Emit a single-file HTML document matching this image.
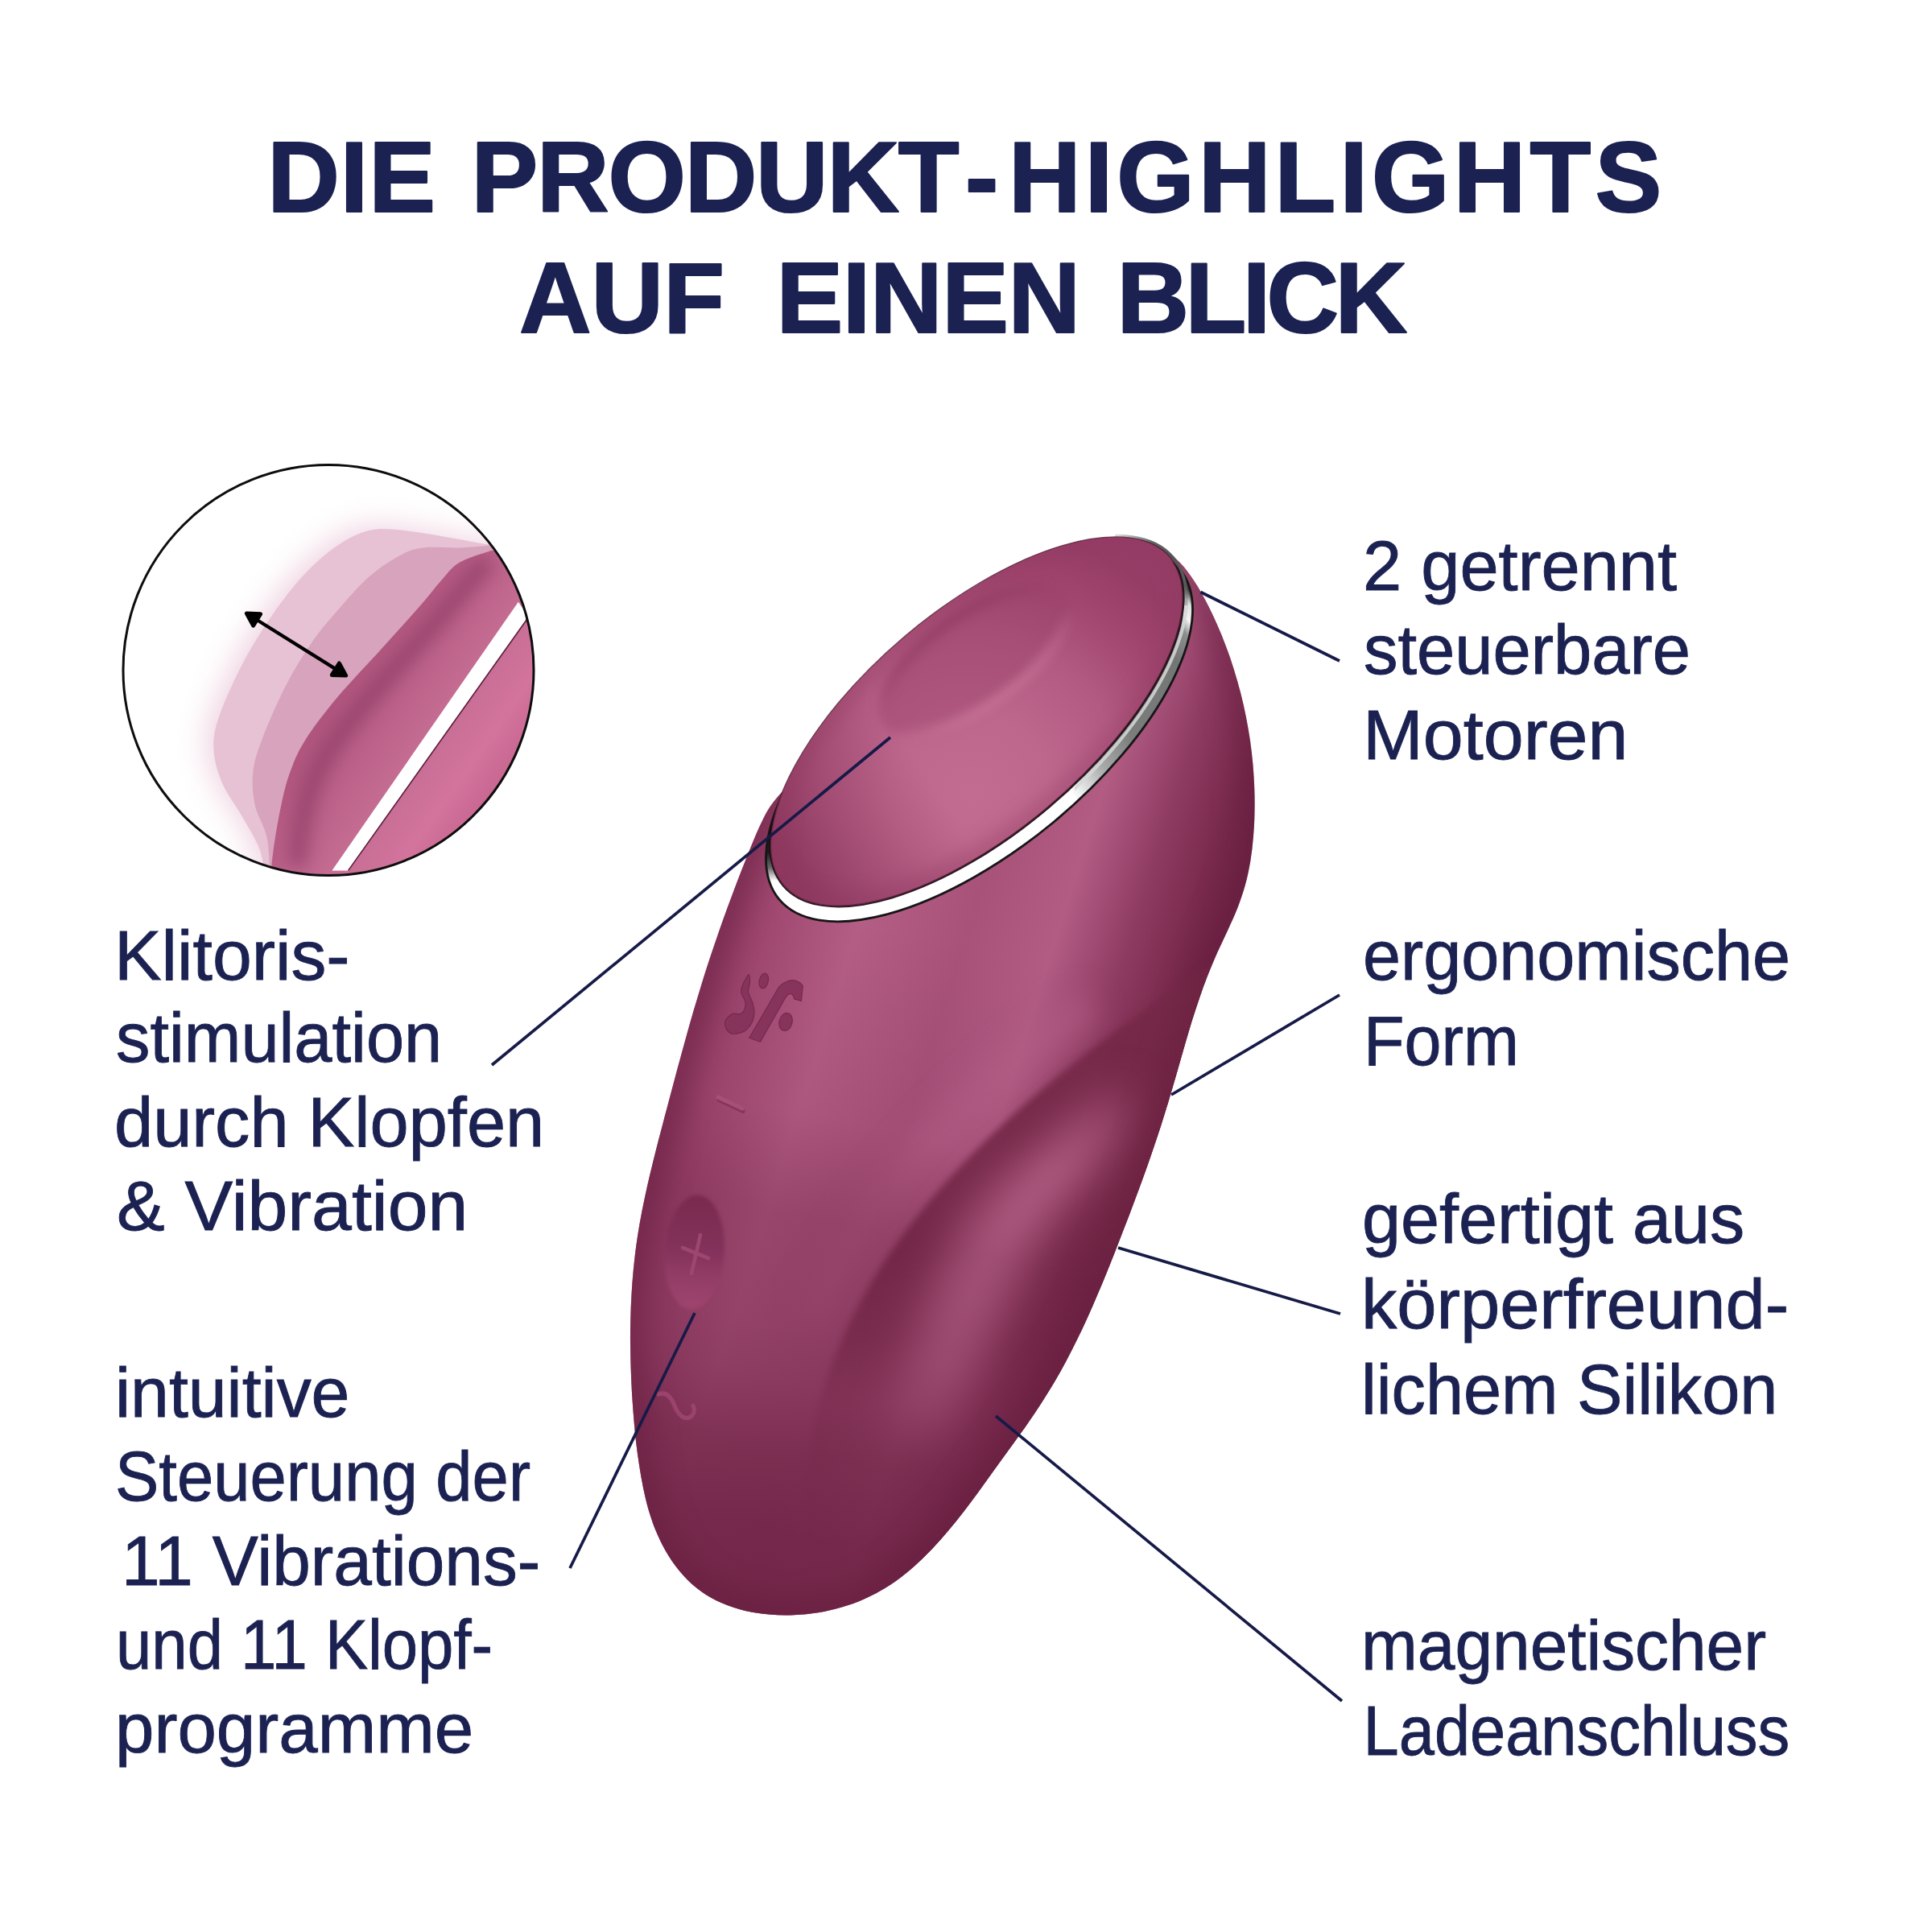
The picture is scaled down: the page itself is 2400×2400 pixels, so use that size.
<!DOCTYPE html>
<html lang="de"><head><meta charset="utf-8"><title>Die Produkt-Highlights auf einen Blick</title>
<style>
html,body{margin:0;padding:0;background:#fff;}
body{width:2400px;height:2400px;overflow:hidden;}
svg{display:block;}
svg text{font-family:"Liberation Sans",sans-serif;fill:#1b2252;}
</style></head><body>
<svg width="2400" height="2400" viewBox="0 0 2400 2400">

<defs>
<clipPath id="cpBody"><path d="M1382.7,670.7 C1391.4,667.8 1401.6,667.6 1411.3,669.1 C1421.0,670.6 1431.7,674.8 1440.7,679.7 C1449.8,684.6 1458.3,691.4 1465.5,698.5 C1472.7,705.6 1478.3,713.9 1483.8,722.2 C1489.4,730.4 1494.1,739.2 1498.7,748.0 C1503.3,756.8 1507.6,765.9 1511.6,775.0 C1515.7,784.2 1519.5,793.5 1523.0,802.9 C1526.5,812.2 1529.8,821.8 1532.8,831.4 C1535.8,841.0 1538.6,850.7 1541.1,860.5 C1543.6,870.2 1545.9,880.1 1547.8,890.0 C1549.8,899.9 1551.5,909.9 1553.0,919.9 C1554.4,929.8 1555.6,939.9 1556.5,949.9 C1557.4,960.0 1558.0,970.1 1558.3,980.1 C1558.7,990.2 1558.7,1000.2 1558.5,1010.3 C1558.3,1020.3 1557.8,1030.4 1556.9,1040.3 C1556.1,1050.3 1554.9,1060.2 1553.3,1070.0 C1551.6,1079.8 1549.6,1089.6 1547.0,1099.1 C1544.3,1108.7 1541.1,1118.2 1537.5,1127.5 C1533.9,1136.8 1529.5,1146.0 1525.4,1155.2 C1521.2,1164.4 1516.7,1173.5 1512.5,1182.7 C1508.4,1192.0 1504.4,1201.2 1500.7,1210.6 C1497.0,1220.0 1493.6,1229.4 1490.3,1238.9 C1487.0,1248.4 1484.0,1258.0 1480.9,1267.6 C1477.9,1277.1 1475.1,1286.8 1472.3,1296.4 C1469.5,1306.1 1466.8,1315.7 1464.0,1325.4 C1461.2,1335.0 1458.5,1344.7 1455.6,1354.4 C1452.8,1364.0 1449.9,1373.6 1446.9,1383.2 C1443.9,1392.8 1440.9,1402.4 1437.7,1411.9 C1434.5,1421.4 1431.3,1430.9 1428.0,1440.4 C1424.7,1449.9 1421.3,1459.4 1417.9,1468.8 C1414.4,1478.3 1410.9,1487.7 1407.4,1497.1 C1403.9,1506.6 1400.3,1516.0 1396.6,1525.3 C1393.0,1534.7 1389.4,1544.1 1385.7,1553.5 C1382.0,1562.8 1378.3,1572.2 1374.5,1581.5 C1370.7,1590.8 1366.9,1600.1 1362.9,1609.3 C1359.0,1618.6 1354.9,1627.8 1350.8,1636.9 C1346.6,1646.0 1342.4,1655.1 1338.0,1664.1 C1333.6,1673.1 1329.0,1682.1 1324.3,1690.9 C1319.6,1699.8 1314.7,1708.5 1309.6,1717.2 C1304.5,1725.8 1299.2,1734.4 1293.8,1742.8 C1288.3,1751.3 1282.6,1759.6 1276.9,1767.9 C1271.2,1776.2 1265.2,1784.4 1259.4,1792.6 C1253.5,1800.8 1247.5,1808.9 1241.6,1817.1 C1235.7,1825.2 1229.9,1833.4 1224.0,1841.5 C1218.1,1849.7 1212.3,1857.8 1206.3,1865.8 C1200.3,1873.8 1194.2,1881.8 1188.0,1889.6 C1181.7,1897.4 1175.3,1905.1 1168.6,1912.6 C1161.9,1920.1 1155.0,1927.5 1147.7,1934.5 C1140.4,1941.6 1132.9,1948.4 1125.0,1954.7 C1117.1,1961.0 1109.0,1966.9 1100.4,1972.2 C1091.9,1977.4 1083.0,1982.1 1073.9,1986.2 C1064.8,1990.3 1055.3,1993.7 1045.7,1996.5 C1036.1,1999.4 1026.2,2001.6 1016.3,2003.2 C1006.3,2004.8 996.2,2005.8 986.1,2006.2 C976.0,2006.6 965.7,2006.4 955.6,2005.5 C945.5,2004.6 935.3,2003.2 925.6,2000.9 C915.8,1998.6 906.1,1995.6 897.1,1991.6 C888.0,1987.7 879.2,1982.9 871.1,1977.1 C863.1,1971.3 855.5,1964.4 848.8,1957.0 C842.0,1949.6 835.8,1941.1 830.4,1932.5 C825.0,1924.0 820.4,1914.8 816.4,1905.6 C812.3,1896.4 809.1,1886.9 806.2,1877.4 C803.3,1867.8 801.1,1858.0 799.0,1848.2 C796.9,1838.4 795.3,1828.5 793.8,1818.6 C792.2,1808.7 791.0,1798.7 789.8,1788.7 C788.7,1778.8 787.8,1768.8 787.0,1758.8 C786.2,1748.8 785.5,1738.7 784.9,1728.7 C784.4,1718.6 783.9,1708.5 783.6,1698.5 C783.3,1688.4 783.1,1678.3 783.0,1668.3 C782.9,1658.2 783.0,1648.1 783.3,1638.0 C783.5,1628.0 783.9,1617.9 784.5,1607.9 C785.1,1597.8 785.8,1587.8 786.8,1577.8 C787.7,1567.8 788.8,1557.9 790.2,1547.9 C791.6,1538.0 793.1,1528.1 794.9,1518.2 C796.6,1508.4 798.6,1498.5 800.7,1488.7 C802.7,1478.9 805.0,1469.1 807.3,1459.3 C809.6,1449.5 812.0,1439.8 814.5,1430.0 C816.9,1420.3 819.5,1410.5 822.1,1400.8 C824.6,1391.1 827.2,1381.3 829.8,1371.6 C832.4,1361.9 834.9,1352.1 837.5,1342.4 C840.1,1332.7 842.7,1323.0 845.4,1313.3 C848.0,1303.5 850.7,1293.8 853.4,1284.2 C856.1,1274.5 858.8,1264.8 861.6,1255.2 C864.5,1245.6 867.3,1236.0 870.3,1226.4 C873.2,1216.8 876.2,1207.2 879.3,1197.7 C882.4,1188.2 885.6,1178.7 888.9,1169.2 C892.1,1159.7 895.4,1150.3 898.8,1140.8 C902.2,1131.3 905.7,1121.9 909.2,1112.5 C912.7,1103.0 916.3,1093.6 919.9,1084.2 C923.6,1074.8 927.2,1065.3 931.1,1055.9 C934.9,1046.6 938.6,1037.0 942.9,1027.9 C947.2,1018.9 951.4,1009.5 956.9,1001.5 C962.4,993.4 968.8,985.9 976.1,979.4 C983.3,972.9 992.0,967.7 1000.5,962.5 C1009.0,957.3 1018.2,952.9 1027.2,948.3 C1036.1,943.6 1045.4,939.3 1054.3,934.5 C1063.2,929.7 1072.0,924.8 1080.6,919.5 C1089.2,914.3 1097.6,908.7 1106.0,903.1 C1114.3,897.4 1122.5,891.5 1130.6,885.5 C1138.7,879.5 1146.6,873.3 1154.6,867.1 C1162.5,860.9 1170.3,854.5 1178.2,848.2 C1186.0,841.8 1193.7,835.4 1201.5,829.0 C1209.2,822.6 1216.9,816.2 1224.7,809.9 C1232.5,803.6 1240.2,797.4 1248.0,791.2 C1255.8,785.0 1263.7,779.1 1271.5,772.9 C1279.3,766.7 1287.1,760.7 1294.7,754.1 C1302.3,747.5 1309.9,740.9 1317.1,733.5 C1324.3,726.2 1331.2,717.9 1338.1,710.0 C1345.1,702.2 1351.5,693.0 1359.0,686.4 C1366.4,679.9 1374.0,673.6 1382.7,670.7Z"/></clipPath>
<clipPath id="cpFace"><path d="M1453.92,692.87 A315.00,138.80 -40.25 1 0 973.08,1099.93 A315.00,138.80 -40.25 1 0 1453.92,692.87 Z" /></clipPath>
<clipPath id="cpCirc"><circle cx="408" cy="832.5" r="254"/></clipPath>
<linearGradient id="gBody" gradientUnits="userSpaceOnUse" x1="860" y1="1150" x2="1461" y2="1342">
 <stop offset="0" stop-color="#85335a"/><stop offset="0.05" stop-color="#8c385f"/><stop offset="0.14" stop-color="#a04870"/><stop offset="0.31" stop-color="#b45e85"/>
 <stop offset="0.52" stop-color="#a8527a"/><stop offset="0.69" stop-color="#b25c84"/><stop offset="0.83" stop-color="#8e3b62"/><stop offset="0.95" stop-color="#762849"/><stop offset="1" stop-color="#6f2345"/>
</linearGradient>
<linearGradient id="gDown" gradientUnits="userSpaceOnUse" x1="1120" y1="1150" x2="930" y2="2000">
 <stop offset="0" stop-color="#6a1f41" stop-opacity="0"/><stop offset="0.29" stop-color="#6a1f41" stop-opacity="0.11"/><stop offset="0.435" stop-color="#6a1f41" stop-opacity="0.37"/><stop offset="0.6" stop-color="#6a1f41" stop-opacity="0.43"/><stop offset="0.67" stop-color="#6a1f41" stop-opacity="0.51"/><stop offset="0.765" stop-color="#6a1f41" stop-opacity="0.7"/><stop offset="0.88" stop-color="#6a1f41" stop-opacity="0.83"/><stop offset="1" stop-color="#6a1f41" stop-opacity="0.87"/>
</linearGradient>
<linearGradient id="gLobe" gradientUnits="userSpaceOnUse" x1="0" y1="1200" x2="0" y2="2000">
 <stop offset="0" stop-color="#762949" stop-opacity="0.95"/><stop offset="0.45" stop-color="#762949" stop-opacity="0.95"/><stop offset="0.58" stop-color="#762949" stop-opacity="0.7"/><stop offset="0.68" stop-color="#762949" stop-opacity="0.3"/><stop offset="0.8" stop-color="#762949" stop-opacity="0.12"/><stop offset="1" stop-color="#762949" stop-opacity="0.05"/>
</linearGradient>
<radialGradient id="gFace" gradientUnits="userSpaceOnUse" cx="1205" cy="985" r="335">
 <stop offset="0" stop-color="#c26c91"/><stop offset="0.3" stop-color="#be678d"/><stop offset="0.58" stop-color="#b25a82"/><stop offset="0.82" stop-color="#a1466e"/><stop offset="1" stop-color="#963d66"/>
</radialGradient>
<linearGradient id="gRing" gradientUnits="userSpaceOnUse" x1="965" y1="1110" x2="1478" y2="735">
 <stop offset="0" stop-color="#ffffff"/><stop offset="0.58" stop-color="#ffffff"/><stop offset="0.66" stop-color="#a8a9a9"/><stop offset="0.74" stop-color="#7b7d7c"/><stop offset="0.9" stop-color="#747675"/><stop offset="0.945" stop-color="#8c8e8d"/><stop offset="0.965" stop-color="#f4f4f4"/><stop offset="0.985" stop-color="#e0e0e0"/><stop offset="1" stop-color="#3c3c3c"/>
</linearGradient>
<linearGradient id="gFaceL" gradientUnits="userSpaceOnUse" x1="955" y1="1035" x2="1125" y2="925">
 <stop offset="0" stop-color="#7c2a50" stop-opacity="0.6"/><stop offset="0.4" stop-color="#7c2a50" stop-opacity="0.33"/><stop offset="1" stop-color="#7c2a50" stop-opacity="0"/>
</linearGradient>
<linearGradient id="gTR" gradientUnits="userSpaceOnUse" x1="1385" y1="650" x2="1490" y2="752">
 <stop offset="0" stop-color="#4c4d4d" stop-opacity="0"/><stop offset="0.35" stop-color="#4c4d4d" stop-opacity="0.9"/><stop offset="0.75" stop-color="#5a5b5b" stop-opacity="1"/><stop offset="1" stop-color="#6a6b6b" stop-opacity="0"/>
</linearGradient>
<linearGradient id="gRingL" gradientUnits="userSpaceOnUse" x1="0" y1="950" x2="0" y2="1110">
 <stop offset="0" stop-color="#2b2b2b"/><stop offset="0.68" stop-color="#1c1c1c"/><stop offset="0.8" stop-color="#6a6a6a"/><stop offset="0.9" stop-color="#ffffff"/><stop offset="1" stop-color="#ffffff"/>
</linearGradient>
<clipPath id="cpRing"><path d="M1465.35,706.56 A322.50,143.20 -39.50 1 0 967.65,1116.84 A322.50,143.20 -39.50 1 0 1465.35,706.56 Z" /></clipPath>
<clipPath id="cpTR"><rect x="1385" y="640" width="130" height="112"/></clipPath>
<clipPath id="cpRS"><rect x="1335" y="745" width="170" height="250"/></clipPath>
<clipPath id="cpRL"><rect x="900" y="600" width="200" height="700"/></clipPath>
<clipPath id="cpRR"><rect x="1100" y="600" width="500" height="700"/></clipPath>
<linearGradient id="gDimStroke" gradientUnits="userSpaceOnUse" x1="1175" y1="770" x2="1246" y2="871">
 <stop offset="0" stop-color="#8a355d" stop-opacity="0.55"/><stop offset="0.35" stop-color="#8a355d" stop-opacity="0.0"/><stop offset="0.6" stop-color="#d583a6" stop-opacity="0"/><stop offset="1" stop-color="#d583a6" stop-opacity="0.6"/>
</linearGradient>
<linearGradient id="gBtn" gradientUnits="userSpaceOnUse" x1="866" y1="1485" x2="858" y2="1625">
 <stop offset="0" stop-color="#7a2a4e"/><stop offset="0.45" stop-color="#82315a"/><stop offset="0.8" stop-color="#964069"/><stop offset="1" stop-color="#9e446f"/>
</linearGradient>
<linearGradient id="gInMain" gradientUnits="userSpaceOnUse" x1="330" y1="800" x2="640" y2="1018">
 <stop offset="0" stop-color="#b8628a"/><stop offset="0.3" stop-color="#b1567f"/><stop offset="0.62" stop-color="#c66d94"/><stop offset="0.78" stop-color="#d3749d"/><stop offset="1" stop-color="#bd5a87"/>
</linearGradient>
<filter id="blur2" color-interpolation-filters="sRGB" x="-20%" y="-20%" width="140%" height="140%"><feGaussianBlur stdDeviation="2"/></filter>
<filter id="blur4" color-interpolation-filters="sRGB" x="-20%" y="-20%" width="140%" height="140%"><feGaussianBlur stdDeviation="4"/></filter>
<filter id="blur6" color-interpolation-filters="sRGB" x="-20%" y="-20%" width="140%" height="140%"><feGaussianBlur stdDeviation="6"/></filter>
<filter id="blur10" color-interpolation-filters="sRGB" x="-30%" y="-30%" width="160%" height="160%"><feGaussianBlur stdDeviation="10"/></filter>
<filter id="blur18" color-interpolation-filters="sRGB" x="-40%" y="-40%" width="180%" height="180%"><feGaussianBlur stdDeviation="18"/></filter>
<filter id="blur30" color-interpolation-filters="sRGB" x="-50%" y="-50%" width="200%" height="200%"><feGaussianBlur stdDeviation="30"/></filter>
</defs>

<rect width="2400" height="2400" fill="#fff"/>
<g id="product"><g clip-path="url(#cpBody)"><rect x="700" y="600" width="1000" height="1500" fill="url(#gBody)"/><path d="M1340.6,1259.4 C1336.5,1262.5 1324.1,1272.0 1315.8,1278.4 C1307.6,1284.8 1299.4,1291.3 1291.3,1297.9 C1283.1,1304.4 1275.0,1311.1 1267.0,1317.8 C1259.0,1324.6 1251.0,1331.4 1243.1,1338.3 C1235.2,1345.2 1227.4,1352.2 1219.7,1359.3 C1211.9,1366.3 1204.3,1373.5 1196.7,1380.8 C1189.2,1388.0 1181.7,1395.4 1174.4,1402.8 C1167.1,1410.2 1159.9,1417.8 1152.8,1425.4 C1145.7,1433.0 1138.8,1440.7 1132.0,1448.5 C1125.1,1456.3 1118.5,1464.2 1112.0,1472.2 C1105.4,1480.3 1099.1,1488.4 1092.9,1496.6 C1086.7,1504.8 1080.7,1513.1 1074.8,1521.5 C1069.0,1529.9 1063.3,1538.4 1057.9,1547.0 C1052.4,1555.6 1047.1,1564.3 1042.1,1573.2 C1037.0,1582.0 1032.2,1590.9 1027.6,1600.0 C1022.9,1609.0 1016.6,1622.8 1014.4,1627.4" fill="none" stroke="#ba648b" stroke-opacity="0.5" stroke-width="46" stroke-linecap="round" filter="url(#blur18)"/><path d="M1498.8,1200.9 C1494.7,1203.7 1482.4,1212.1 1474.2,1217.8 C1466.0,1223.5 1457.7,1229.2 1449.4,1235.0 C1441.1,1240.9 1432.8,1246.8 1424.5,1252.7 C1416.2,1258.7 1407.8,1264.7 1399.5,1270.8 C1391.2,1276.9 1382.9,1283.1 1374.6,1289.4 C1366.3,1295.6 1358.1,1302.0 1349.8,1308.4 C1341.6,1314.8 1333.4,1321.3 1325.3,1327.9 C1317.1,1334.4 1309.0,1341.1 1301.0,1347.8 C1293.0,1354.6 1285.0,1361.4 1277.1,1368.3 C1269.2,1375.2 1261.4,1382.2 1253.7,1389.3 C1245.9,1396.3 1238.3,1403.5 1230.7,1410.8 C1223.2,1418.0 1215.7,1425.4 1208.4,1432.8 C1201.1,1440.2 1193.9,1447.8 1186.8,1455.4 C1179.7,1463.0 1172.8,1470.7 1166.0,1478.5 C1159.1,1486.3 1152.5,1494.2 1146.0,1502.2 C1139.4,1510.3 1133.1,1518.4 1126.9,1526.6 C1120.7,1534.8 1114.7,1543.1 1108.8,1551.5 C1103.0,1559.9 1097.3,1568.4 1091.9,1577.0 C1086.4,1585.6 1081.1,1594.3 1076.1,1603.2 C1071.0,1612.0 1066.2,1620.9 1061.6,1630.0 C1056.9,1639.0 1052.5,1648.2 1048.4,1657.4 C1044.2,1666.7 1040.2,1676.1 1036.6,1685.5 C1032.9,1695.0 1029.4,1704.6 1026.3,1714.4 C1023.1,1724.1 1020.2,1733.9 1017.5,1743.9 C1014.9,1753.8 1012.5,1763.9 1010.5,1774.1 C1008.4,1784.3 1006.6,1794.6 1005.1,1805.0 C1003.7,1815.4 1002.5,1826.0 1001.6,1836.7 C1000.7,1847.4 1000.2,1858.2 1000.0,1869.1 C999.8,1880.0 1000.3,1896.7 1000.3,1902.3 L1000,2100 L1700,2100 L1700,1150 Z" fill="url(#gLobe)" filter="url(#blur4)"/><path d="M1385.0,1365.0 C1368.3,1374.2 1323.3,1411.7 1295.0,1435.0 C1266.7,1458.3 1235.8,1480.8 1215.0,1505.0 C1194.2,1529.2 1181.7,1555.0 1170.0,1580.0 C1158.3,1605.0 1152.0,1630.8 1145.0,1655.0 C1138.0,1679.2 1132.2,1704.2 1128.0,1725.0 C1123.8,1745.8 1117.2,1769.2 1120.0,1780.0 C1122.8,1790.8 1134.2,1796.7 1145.0,1790.0 C1155.8,1783.3 1171.7,1760.0 1185.0,1740.0 C1198.3,1720.0 1212.2,1694.2 1225.0,1670.0 C1237.8,1645.8 1249.5,1620.0 1262.0,1595.0 C1274.5,1570.0 1285.3,1544.2 1300.0,1520.0 C1314.7,1495.8 1334.2,1473.3 1350.0,1450.0 C1365.8,1426.7 1389.2,1394.2 1395.0,1380.0 C1400.8,1365.8 1401.7,1355.8 1385.0,1365.0Z" fill="#c9739b" filter="url(#blur30)"/><rect x="700" y="1100" width="1000" height="1000" fill="url(#gDown)"/><path d="M1382.7,670.7 C1391.4,667.8 1401.6,667.6 1411.3,669.1 C1421.0,670.6 1431.7,674.8 1440.7,679.7 C1449.8,684.6 1458.3,691.4 1465.5,698.5 C1472.7,705.6 1478.3,713.9 1483.8,722.2 C1489.4,730.4 1494.1,739.2 1498.7,748.0 C1503.3,756.8 1507.6,765.9 1511.6,775.0 C1515.7,784.2 1519.5,793.5 1523.0,802.9 C1526.5,812.2 1529.8,821.8 1532.8,831.4 C1535.8,841.0 1538.6,850.7 1541.1,860.5 C1543.6,870.2 1545.9,880.1 1547.8,890.0 C1549.8,899.9 1551.5,909.9 1553.0,919.9 C1554.4,929.8 1555.6,939.9 1556.5,949.9 C1557.4,960.0 1558.0,970.1 1558.3,980.1 C1558.7,990.2 1558.7,1000.2 1558.5,1010.3 C1558.3,1020.3 1557.8,1030.4 1556.9,1040.3 C1556.1,1050.3 1554.9,1060.2 1553.3,1070.0 C1551.6,1079.8 1549.6,1089.6 1547.0,1099.1 C1544.3,1108.7 1541.1,1118.2 1537.5,1127.5 C1533.9,1136.8 1529.5,1146.0 1525.4,1155.2 C1521.2,1164.4 1516.7,1173.5 1512.5,1182.7 C1508.4,1192.0 1504.4,1201.2 1500.7,1210.6 C1497.0,1220.0 1493.6,1229.4 1490.3,1238.9 C1487.0,1248.4 1484.0,1258.0 1480.9,1267.6 C1477.9,1277.1 1475.1,1286.8 1472.3,1296.4 C1469.5,1306.1 1466.8,1315.7 1464.0,1325.4 C1461.2,1335.0 1458.5,1344.7 1455.6,1354.4 C1452.8,1364.0 1449.9,1373.6 1446.9,1383.2 C1443.9,1392.8 1440.9,1402.4 1437.7,1411.9 C1434.5,1421.4 1431.3,1430.9 1428.0,1440.4 C1424.7,1449.9 1421.3,1459.4 1417.9,1468.8 C1414.4,1478.3 1410.9,1487.7 1407.4,1497.1 C1403.9,1506.6 1400.3,1516.0 1396.6,1525.3 C1393.0,1534.7 1389.4,1544.1 1385.7,1553.5 C1382.0,1562.8 1378.3,1572.2 1374.5,1581.5 C1370.7,1590.8 1366.9,1600.1 1362.9,1609.3 C1359.0,1618.6 1354.9,1627.8 1350.8,1636.9 C1346.6,1646.0 1342.4,1655.1 1338.0,1664.1 C1333.6,1673.1 1329.0,1682.1 1324.3,1690.9 C1319.6,1699.8 1314.7,1708.5 1309.6,1717.2 C1304.5,1725.8 1299.2,1734.4 1293.8,1742.8 C1288.3,1751.3 1282.6,1759.6 1276.9,1767.9 C1271.2,1776.2 1265.2,1784.4 1259.4,1792.6 C1253.5,1800.8 1247.5,1808.9 1241.6,1817.1 C1235.7,1825.2 1229.9,1833.4 1224.0,1841.5 C1218.1,1849.7 1212.3,1857.8 1206.3,1865.8 C1200.3,1873.8 1194.2,1881.8 1188.0,1889.6 C1181.7,1897.4 1175.3,1905.1 1168.6,1912.6 C1161.9,1920.1 1155.0,1927.5 1147.7,1934.5 C1140.4,1941.6 1132.9,1948.4 1125.0,1954.7 C1117.1,1961.0 1109.0,1966.9 1100.4,1972.2 C1091.9,1977.4 1083.0,1982.1 1073.9,1986.2 C1064.8,1990.3 1055.3,1993.7 1045.7,1996.5 C1036.1,1999.4 1026.2,2001.6 1016.3,2003.2 C1006.3,2004.8 996.2,2005.8 986.1,2006.2 C976.0,2006.6 965.7,2006.4 955.6,2005.5 C945.5,2004.6 935.3,2003.2 925.6,2000.9 C915.8,1998.6 906.1,1995.6 897.1,1991.6 C888.0,1987.7 879.2,1982.9 871.1,1977.1 C863.1,1971.3 855.5,1964.4 848.8,1957.0 C842.0,1949.6 835.8,1941.1 830.4,1932.5 C825.0,1924.0 820.4,1914.8 816.4,1905.6 C812.3,1896.4 809.1,1886.9 806.2,1877.4 C803.3,1867.8 801.1,1858.0 799.0,1848.2 C796.9,1838.4 795.3,1828.5 793.8,1818.6 C792.2,1808.7 791.0,1798.7 789.8,1788.7 C788.7,1778.8 787.8,1768.8 787.0,1758.8 C786.2,1748.8 785.5,1738.7 784.9,1728.7 C784.4,1718.6 783.9,1708.5 783.6,1698.5 C783.3,1688.4 783.1,1678.3 783.0,1668.3 C782.9,1658.2 783.0,1648.1 783.3,1638.0 C783.5,1628.0 783.9,1617.9 784.5,1607.9 C785.1,1597.8 785.8,1587.8 786.8,1577.8 C787.7,1567.8 788.8,1557.9 790.2,1547.9 C791.6,1538.0 793.1,1528.1 794.9,1518.2 C796.6,1508.4 798.6,1498.5 800.7,1488.7 C802.7,1478.9 805.0,1469.1 807.3,1459.3 C809.6,1449.5 812.0,1439.8 814.5,1430.0 C816.9,1420.3 819.5,1410.5 822.1,1400.8 C824.6,1391.1 827.2,1381.3 829.8,1371.6 C832.4,1361.9 834.9,1352.1 837.5,1342.4 C840.1,1332.7 842.7,1323.0 845.4,1313.3 C848.0,1303.5 850.7,1293.8 853.4,1284.2 C856.1,1274.5 858.8,1264.8 861.6,1255.2 C864.5,1245.6 867.3,1236.0 870.3,1226.4 C873.2,1216.8 876.2,1207.2 879.3,1197.7 C882.4,1188.2 885.6,1178.7 888.9,1169.2 C892.1,1159.7 895.4,1150.3 898.8,1140.8 C902.2,1131.3 905.7,1121.9 909.2,1112.5 C912.7,1103.0 916.3,1093.6 919.9,1084.2 C923.6,1074.8 927.2,1065.3 931.1,1055.9 C934.9,1046.6 938.6,1037.0 942.9,1027.9 C947.2,1018.9 951.4,1009.5 956.9,1001.5 C962.4,993.4 968.8,985.9 976.1,979.4 C983.3,972.9 992.0,967.7 1000.5,962.5 C1009.0,957.3 1018.2,952.9 1027.2,948.3 C1036.1,943.6 1045.4,939.3 1054.3,934.5 C1063.2,929.7 1072.0,924.8 1080.6,919.5 C1089.2,914.3 1097.6,908.7 1106.0,903.1 C1114.3,897.4 1122.5,891.5 1130.6,885.5 C1138.7,879.5 1146.6,873.3 1154.6,867.1 C1162.5,860.9 1170.3,854.5 1178.2,848.2 C1186.0,841.8 1193.7,835.4 1201.5,829.0 C1209.2,822.6 1216.9,816.2 1224.7,809.9 C1232.5,803.6 1240.2,797.4 1248.0,791.2 C1255.8,785.0 1263.7,779.1 1271.5,772.9 C1279.3,766.7 1287.1,760.7 1294.7,754.1 C1302.3,747.5 1309.9,740.9 1317.1,733.5 C1324.3,726.2 1331.2,717.9 1338.1,710.0 C1345.1,702.2 1351.5,693.0 1359.0,686.4 C1366.4,679.9 1374.0,673.6 1382.7,670.7Z" fill="none" stroke="#5f1a3a" stroke-opacity="0.5" stroke-width="30" filter="url(#blur18)"/></g><g id="controls"><path d="M899.71,1558.08 A37.00,71.00 4.00 1 0 825.89,1552.92 A37.00,71.00 4.00 1 0 899.71,1558.08 Z" fill="url(#gBtn)" filter="url(#blur2)"/><g stroke="#9d466f" stroke-width="4.6" stroke-linecap="round" fill="none"><path d="M848,1550 L880,1563"/><path d="M870,1534 L859,1582"/><path d="M818,1732 C828,1728 834,1736 838,1746 C843,1760 852,1764 858,1760 C863,1756 863,1750 861,1746" stroke="#9a446c" stroke-width="5.2"/><path d="M893,1366.5 L923,1380.5" stroke="#7e2f54" stroke-width="5" stroke-opacity="0.7"/><path d="M892,1363 L922,1377" stroke="#a64f78" stroke-width="5.2"/></g><g fill="#86345b" stroke="#702446" stroke-width="1.2" stroke-opacity="0.8"><path d="M928.9,1211.7 C927.5,1213.8 923.4,1221.1 922.1,1224.7 C920.8,1228.3 920.3,1230.1 920.9,1233.4 C921.5,1236.7 925.2,1241.1 925.8,1244.6 C926.4,1248.1 925.6,1252.0 924.6,1254.5 C923.6,1257.0 922.1,1258.7 919.6,1259.5 C917.1,1260.3 912.8,1258.0 909.7,1259.5 C906.6,1261.0 902.2,1265.1 901.0,1268.2 C899.8,1271.3 900.8,1275.4 902.2,1278.1 C903.7,1280.8 906.8,1283.5 909.7,1284.3 C912.6,1285.1 916.7,1283.9 919.6,1283.1 C922.5,1282.3 924.6,1281.7 927.1,1279.4 C929.6,1277.1 932.9,1273.1 934.5,1269.4 C936.1,1265.7 937.0,1261.1 937.0,1257.0 C937.0,1252.9 935.7,1248.7 934.5,1244.6 C933.3,1240.5 930.1,1236.1 929.6,1232.2 C929.1,1228.3 931.2,1224.3 931.4,1221.0 C931.6,1217.7 931.2,1213.8 930.8,1212.3 C930.4,1210.8 930.3,1209.6 928.9,1211.7Z"/><path d="M954.14,1219.83 A5.50,9.50 14.00 1 0 943.46,1217.17 A5.50,9.50 14.00 1 0 954.14,1219.83 Z" /><path d="M995.4,1243.4 L997.3,1224.5 C992,1217 984,1216.5 978,1219 C972,1221.5 969,1224 966.8,1227.2 L930.8,1289.3 L944.5,1294.3 L975.5,1239.6 C978,1235.5 980.5,1234 983,1234.7 C985,1235.5 986,1238 986.7,1240.9 Z"/><path d="M983.86,1271.34 A8.00,11.00 14.00 1 0 968.34,1267.46 A8.00,11.00 14.00 1 0 983.86,1271.34 Z" /></g></g><g clip-path="url(#cpRR)"><path d="M1465.35,706.56 A322.50,143.20 -39.50 1 0 967.65,1116.84 A322.50,143.20 -39.50 1 0 1465.35,706.56 Z" fill="url(#gRing)" stroke="#161616" stroke-width="2.8"/></g><g clip-path="url(#cpRL)"><path d="M1465.35,706.56 A322.50,143.20 -39.50 1 0 967.65,1116.84 A322.50,143.20 -39.50 1 0 1465.35,706.56 Z" fill="url(#gRingL)" stroke="#161616" stroke-width="2.8"/></g><g clip-path="url(#cpRS)"><g clip-path="url(#cpRing)"><path d="M1457.35,689.96 A319.50,143.30 -40.25 1 0 969.65,1102.84 A319.50,143.30 -40.25 1 0 1457.35,689.96 Z" fill="none" stroke="#d6d8d7" stroke-width="4" stroke-opacity="0.85"/></g></g><g clip-path="url(#cpTR)"><path d="M1456.56,692.90 A316.50,140.30 -40.25 1 0 973.44,1101.90 A316.50,140.30 -40.25 1 0 1456.56,692.90 Z" fill="none" stroke="url(#gTR)" stroke-width="5"/></g><path d="M1453.92,692.87 A315.00,138.80 -40.25 1 0 973.08,1099.93 A315.00,138.80 -40.25 1 0 1453.92,692.87 Z" fill="url(#gFace)" stroke="#3a1426" stroke-width="1.4" stroke-opacity="0.7"/><g clip-path="url(#cpRing)"><path d="M1453.92,692.87 A315.00,138.80 -40.25 1 0 973.08,1099.93 A315.00,138.80 -40.25 1 0 1453.92,692.87 Z" fill="none" stroke="#1c0a12" stroke-width="3" stroke-opacity="0.9"/></g><g clip-path="url(#cpFace)"><path d="M1453.92,692.87 A315.00,138.80 -40.25 1 0 973.08,1099.93 A315.00,138.80 -40.25 1 0 1453.92,692.87 Z" fill="url(#gFaceL)"/><path d="M1453.92,692.87 A315.00,138.80 -40.25 1 0 973.08,1099.93 A315.00,138.80 -40.25 1 0 1453.92,692.87 Z" fill="none" stroke="#8e3860" stroke-width="30" stroke-opacity="0.35" filter="url(#blur10)"/><path d="M1323.04,740.85 A138.00,60.00 -35.00 1 0 1096.96,899.15 A138.00,60.00 -35.00 1 0 1323.04,740.85 Z" fill="#98406a" fill-opacity="0.42" filter="url(#blur6)"/><path d="M1319.77,743.14 A134.00,56.00 -35.00 1 0 1100.23,896.86 A134.00,56.00 -35.00 1 0 1319.77,743.14 Z" fill="none" stroke="url(#gDimStroke)" stroke-width="14" filter="url(#blur6)"/></g></g>
<g id="inset"><circle cx="408.0" cy="832.5" r="255.0" fill="#fff"/><g clip-path="url(#cpCirc)"><path d="M674.9,672.3 C668.2,673.0 645.7,675.7 634.5,676.3 C623.3,677.0 621.1,677.9 607.6,676.3 C594.1,674.8 571.7,669.8 553.8,666.9 C535.8,664.0 515.6,660.2 499.9,658.8 C484.2,657.5 473.0,655.7 459.6,658.8 C446.1,662.0 432.6,668.7 419.2,677.7 C405.7,686.6 392.3,698.3 378.8,712.7 C365.3,727.0 351.4,745.0 338.4,763.8 C325.4,782.7 312.0,804.2 300.7,825.7 C289.5,847.3 277.0,875.1 271.1,893.0 C265.3,911.0 264.8,919.9 265.7,933.4 C266.6,946.9 270.7,960.3 276.5,973.8 C282.3,987.2 293.1,1000.7 300.7,1014.1 C308.4,1027.6 317.3,1041.1 322.3,1054.5 C327.2,1068.0 329.0,1088.2 330.3,1094.9 L715.3,1094.9 L715.3,650.8 Z" fill="#efd3e0" filter="url(#blur18)" transform="translate(-9,-4)"/><path d="M674.9,672.3 C668.2,673.0 645.7,675.7 634.5,676.3 C623.3,677.0 621.1,677.9 607.6,676.3 C594.1,674.8 571.7,669.8 553.8,666.9 C535.8,664.0 515.6,660.2 499.9,658.8 C484.2,657.5 473.0,655.7 459.6,658.8 C446.1,662.0 432.6,668.7 419.2,677.7 C405.7,686.6 392.3,698.3 378.8,712.7 C365.3,727.0 351.4,745.0 338.4,763.8 C325.4,782.7 312.0,804.2 300.7,825.7 C289.5,847.3 277.0,875.1 271.1,893.0 C265.3,911.0 264.8,919.9 265.7,933.4 C266.6,946.9 270.7,960.3 276.5,973.8 C282.3,987.2 293.1,1000.7 300.7,1014.1 C308.4,1027.6 317.3,1041.1 322.3,1054.5 C327.2,1068.0 329.0,1088.2 330.3,1094.9 L715.3,1094.9 L715.3,650.8 Z" fill="#e6c2d4"/><path d="M674.9,666.9 C668.2,668.3 645.7,673.2 634.5,675.0 C623.3,676.8 618.4,676.8 607.6,677.7 C596.8,678.6 583.4,679.9 569.9,680.4 C556.5,680.8 538.5,679.0 526.9,680.4 C515.2,681.7 511.1,682.6 499.9,688.4 C488.7,694.3 473.0,703.7 459.6,715.4 C446.1,727.0 431.3,744.5 419.2,758.4 C407.1,772.3 397.6,783.1 386.9,798.8 C376.1,814.5 364.9,832.4 354.6,852.6 C344.3,872.8 331.7,902.0 325.0,919.9 C318.2,937.9 315.5,946.9 314.2,960.3 C312.9,973.8 314.0,987.2 316.9,1000.7 C319.8,1014.1 328.6,1025.4 331.7,1041.1 C334.8,1056.8 335.1,1085.9 335.7,1094.9 L715.3,1094.9 L715.3,650.8 Z" fill="#d7a3bd"/><path d="M674.9,658.8 C668.2,662.0 646.2,673.2 634.5,677.7 C622.9,682.2 615.7,682.2 604.9,685.7 C594.1,689.3 579.3,693.4 569.9,699.2 C560.5,705.0 556.5,711.8 548.4,720.7 C540.3,729.7 534.0,738.7 521.5,753.0 C508.9,767.4 490.1,788.0 473.0,806.9 C456.0,825.7 434.9,847.3 419.2,866.1 C403.5,884.9 388.7,904.2 378.8,919.9 C368.9,935.6 364.9,946.9 360.0,960.3 C355.0,973.8 352.6,985.0 349.2,1000.7 C345.8,1016.4 342.0,1038.8 339.8,1054.5 C337.5,1070.2 336.4,1088.2 335.7,1094.9 L715.3,1094.9 L715.3,650.8 Z" fill="url(#gInMain)"/><clipPath id="cpMain"><path d="M674.9,658.8 C668.2,662.0 646.2,673.2 634.5,677.7 C622.9,682.2 615.7,682.2 604.9,685.7 C594.1,689.3 579.3,693.4 569.9,699.2 C560.5,705.0 556.5,711.8 548.4,720.7 C540.3,729.7 534.0,738.7 521.5,753.0 C508.9,767.4 490.1,788.0 473.0,806.9 C456.0,825.7 434.9,847.3 419.2,866.1 C403.5,884.9 388.7,904.2 378.8,919.9 C368.9,935.6 364.9,946.9 360.0,960.3 C355.0,973.8 352.6,985.0 349.2,1000.7 C345.8,1016.4 342.0,1038.8 339.8,1054.5 C337.5,1070.2 336.4,1088.2 335.7,1094.9 L715.3,1094.9 L715.3,650.8 Z"/></clipPath><g clip-path="url(#cpMain)"><path d="M607.6,696.5 C604.9,699.2 598.6,704.6 591.5,712.7 C584.3,720.7 573.5,734.2 564.5,745.0 C555.6,755.7 549.7,763.4 537.6,777.3 C525.5,791.2 507.1,810.9 491.9,828.4 C476.6,845.9 460.0,864.8 446.1,882.2 C432.2,899.7 418.3,917.7 408.4,933.4 C398.5,949.1 392.3,962.1 386.9,976.5 C381.5,990.8 379.3,1002.9 376.1,1019.5 C373.0,1036.1 369.4,1066.6 368.0,1076.1" fill="none" stroke="#8d3c64" stroke-opacity="0.62" stroke-width="26" filter="url(#blur10)"/></g><polygon points="643.9,747.7 412.4,1081.4 432.6,1081.4 656.6,766.5" fill="#fff"/><line x1="656.6" y1="766.5" x2="432.6" y2="1081.4" stroke="#5a1d3a" stroke-width="1.6"/></g><line x1="311.5" y1="765.2" x2="424.6" y2="835.9" stroke="#000" stroke-width="4.2"/><polygon points="429.6,839.1 412.4,838.4 421.4,824.0" fill="#000" stroke="#000" stroke-width="5" stroke-linejoin="round"/><polygon points="306.4,762.0 323.6,762.7 314.6,777.1" fill="#000" stroke="#000" stroke-width="5" stroke-linejoin="round"/><circle cx="408.0" cy="832.5" r="255.0" fill="none" stroke="#0d0d0d" stroke-width="3"/></g>
<line x1="1106.0" y1="916.0" x2="611.0" y2="1323.0" stroke="#161a47" stroke-width="3.7"/><line x1="1491.5" y1="735.5" x2="1664.0" y2="821.0" stroke="#161a47" stroke-width="3.7"/><line x1="1664.0" y1="1236.0" x2="1455.0" y2="1360.0" stroke="#161a47" stroke-width="3.7"/><line x1="1389.0" y1="1550.0" x2="1665.0" y2="1632.0" stroke="#161a47" stroke-width="3.7"/><line x1="1237.0" y1="1759.0" x2="1667.0" y2="2113.0" stroke="#161a47" stroke-width="3.7"/><line x1="863.0" y1="1631.0" x2="708.0" y2="1948.0" stroke="#161a47" stroke-width="3.7"/>
<g id="labels">
<text y="263.4" font-size="124" font-weight="bold" stroke="#1b2252" stroke-width="2.2" stroke-linejoin="round" x="332.2 422.7 458.2 540.9 585.5 667.0 755.4 850.7 939.1 1027.5 1115.8 1199.1 1253.0 1347.7 1387.3 1488.9 1583.6 1664.5 1704.1 1805.7 1900.4 1981.4">DIE PRODUKT-HIGHLIGHTS</text>
<text y="412.5" font-size="124" font-weight="bold" stroke="#1b2252" stroke-width="2.2" stroke-linejoin="round" x="645.0 734.6 824.3 900.0 964.4 1046.8 1081.0 1170.2 1252.6 1342.2 1387.5 1472.5 1543.7 1573.6 1658.6">AUF EINEN BLICK</text>
<text x="142.0" y="1216.7" font-size="87" stroke="#1b2252" stroke-width="0.9" textLength="292.5" lengthAdjust="spacingAndGlyphs">Klitoris-</text>
<text x="144.0" y="1319.0" font-size="87" stroke="#1b2252" stroke-width="0.9" textLength="405.2" lengthAdjust="spacingAndGlyphs">stimulation</text>
<text x="142.0" y="1424.0" font-size="87" stroke="#1b2252" stroke-width="0.9" textLength="534.2" lengthAdjust="spacingAndGlyphs">durch Klopfen</text>
<text x="145.0" y="1527.5" font-size="87" stroke="#1b2252" stroke-width="0.9" textLength="436.2" lengthAdjust="spacingAndGlyphs">&amp; Vibration</text>
<text x="143.0" y="1760.0" font-size="87" stroke="#1b2252" stroke-width="0.9" textLength="291.4" lengthAdjust="spacingAndGlyphs">intuitive</text>
<text x="143.0" y="1864.0" font-size="87" stroke="#1b2252" stroke-width="0.9" textLength="516.0" lengthAdjust="spacingAndGlyphs">Steuerung der</text>
<text x="151.0" y="1969.0" font-size="87" stroke="#1b2252" stroke-width="0.9" textLength="520.2" lengthAdjust="spacingAndGlyphs">11 Vibrations-</text>
<text x="144.0" y="2073.0" font-size="87" stroke="#1b2252" stroke-width="0.9" textLength="468.1" lengthAdjust="spacingAndGlyphs">und 11 Klopf-</text>
<text x="143.0" y="2177.0" font-size="87" stroke="#1b2252" stroke-width="0.9" textLength="445.2" lengthAdjust="spacingAndGlyphs">programme</text>
<text x="1693.0" y="732.5" font-size="87" stroke="#1b2252" stroke-width="0.9" textLength="390.1" lengthAdjust="spacingAndGlyphs">2 getrennt</text>
<text x="1694.0" y="837.0" font-size="87" stroke="#1b2252" stroke-width="0.9" textLength="406.1" lengthAdjust="spacingAndGlyphs">steuerbare</text>
<text x="1693.0" y="943.0" font-size="87" stroke="#1b2252" stroke-width="0.9" textLength="329.5" lengthAdjust="spacingAndGlyphs">Motoren</text>
<text x="1693.0" y="1217.0" font-size="87" stroke="#1b2252" stroke-width="0.9" textLength="531.1" lengthAdjust="spacingAndGlyphs">ergonomische</text>
<text x="1694.0" y="1322.5" font-size="87" stroke="#1b2252" stroke-width="0.9" textLength="192.8" lengthAdjust="spacingAndGlyphs">Form</text>
<text x="1692.0" y="1544.4" font-size="87" stroke="#1b2252" stroke-width="0.9" textLength="475.1" lengthAdjust="spacingAndGlyphs">gefertigt aus</text>
<text x="1691.0" y="1650.0" font-size="87" stroke="#1b2252" stroke-width="0.9" textLength="531.2" lengthAdjust="spacingAndGlyphs">körperfreund-</text>
<text x="1691.0" y="1755.6" font-size="87" stroke="#1b2252" stroke-width="0.9" textLength="517.3" lengthAdjust="spacingAndGlyphs">lichem Silikon</text>
<text x="1691.0" y="2074.0" font-size="87" stroke="#1b2252" stroke-width="0.9" textLength="503.1" lengthAdjust="spacingAndGlyphs">magnetischer</text>
<text x="1693.6" y="2180.0" font-size="87" stroke="#1b2252" stroke-width="0.9" textLength="529.6" lengthAdjust="spacingAndGlyphs">Ladeanschluss</text>
</g>

</svg>
</body></html>
